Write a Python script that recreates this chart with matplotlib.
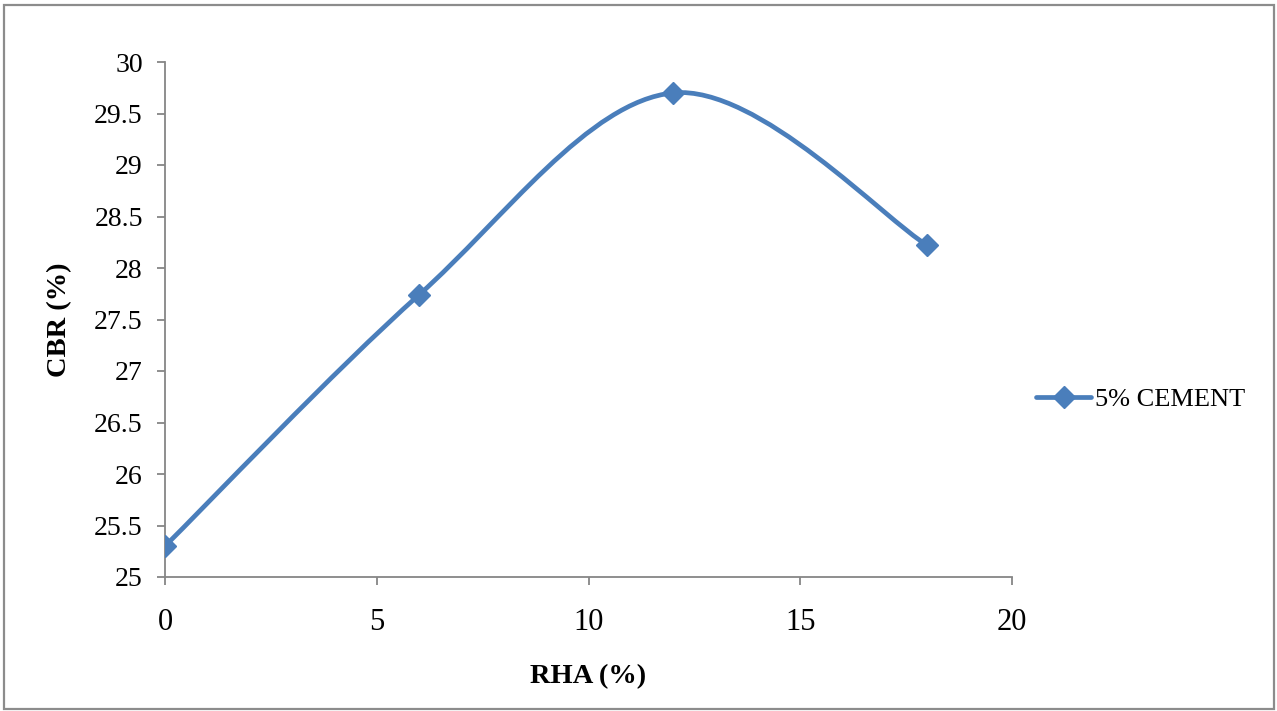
import matplotlib
matplotlib.use("Agg")
import matplotlib.pyplot as plt
from matplotlib.path import Path
from matplotlib.patches import PathPatch, Rectangle
from matplotlib.lines import Line2D

rha = [0, 6, 12, 18]
cbr = [25.3, 27.74, 29.7, 28.22]
series_name = "5% CEMENT"
x_ticks = [0, 5, 10, 15, 20]
y_ticks = [25, 25.5, 26, 26.5, 27, 27.5, 28, 28.5, 29, 29.5, 30]
y_tick_labels = ["25", "25.5", "26", "26.5", "27", "27.5", "28", "28.5", "29", "29.5", "30"]

plt.rcParams['font.family'] = ['Liberation Serif', 'DejaVu Serif']
color = '#4A7EBB'
gray = '#868686'

fig = plt.figure(figsize=(12.77, 7.11), dpi=100)
ax = fig.add_axes([165/1277, 1 - 577/711, (1012-165)/1277, (577-62)/711])

# smooth (Excel-like) Bezier curve through the data points
pts = list(zip(rha, cbr))
n = len(pts)
verts = [pts[0]]
codes = [Path.MOVETO]
for i in range(n - 1):
    p0 = pts[i - 1] if i > 0 else pts[i]
    p1 = pts[i]
    p2 = pts[i + 1]
    p3 = pts[i + 2] if i + 2 < n else pts[i + 1]
    c1 = (p1[0] + (p2[0] - p0[0]) / 6, p1[1] + (p2[1] - p0[1]) / 6)
    c2 = (p2[0] - (p3[0] - p1[0]) / 6, p2[1] - (p3[1] - p1[1]) / 6)
    verts += [c1, c2, p2]
    codes += [Path.CURVE4] * 3
patch = PathPatch(Path(verts, codes), facecolor='none', edgecolor=color,
                  lw=3.4, capstyle='round', joinstyle='round', zorder=3)
ax.add_patch(patch)
ax.plot(rha, cbr, linestyle='none', marker='D', markersize=11.5,
        color=color, zorder=4)

ax.set_xlim(0, 20)
ax.set_ylim(25, 30)
ax.set_xticks(x_ticks)
ax.set_yticks(y_ticks)
ax.set_yticklabels(y_tick_labels)
for s in ['top', 'right']:
    ax.spines[s].set_visible(False)
for s in ['left', 'bottom']:
    ax.spines[s].set_color(gray)
    ax.spines[s].set_linewidth(1.3)
ax.tick_params(axis='both', direction='out', length=6, width=1.3,
               color=gray, labelcolor='black')
ax.tick_params(axis='x', pad=16, labelsize=22)
ax.tick_params(axis='y', pad=10, labelsize=20)

ax.set_xlabel("RHA (%)", fontsize=20.5, fontweight='bold', labelpad=20)
ax.set_ylabel("CBR (%)", fontsize=20.5, fontweight='bold', labelpad=16)

handle = Line2D([], [], color=color, lw=3.4, marker='D', markersize=11,
                solid_capstyle='round')
fig.legend(handles=[handle], labels=[series_name], loc='center left',
           bbox_to_anchor=(1036/1277, 1 - 399/711), frameon=False,
           fontsize=19, handlelength=2.1, handletextpad=0.12,
           borderaxespad=0, borderpad=0)

fig.patches.append(Rectangle((4/1277, 2/711), 1270/1277, 704/711,
                             transform=fig.transFigure, fill=False,
                             edgecolor='#8c8c8c', lw=1.6))

fig.savefig("out.png", dpi=100)
